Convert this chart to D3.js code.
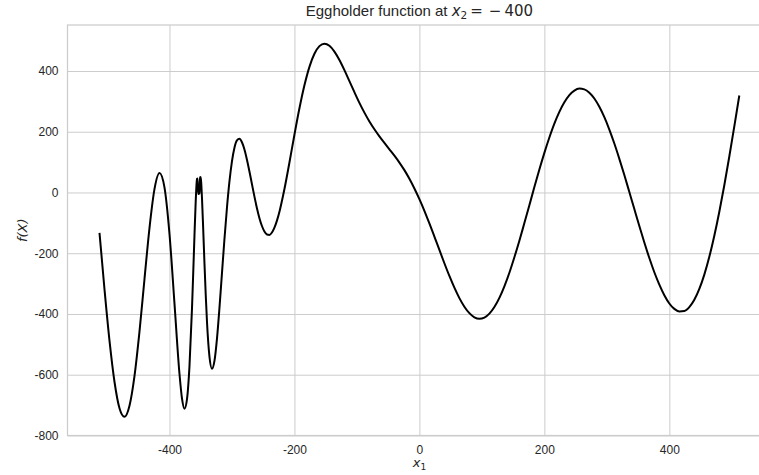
<!DOCTYPE html>
<html>
<head>
<meta charset="utf-8">
<script src="https://cdn.jsdelivr.net/npm/d3@7"></script>
<style>
  html, body { margin: 0; padding: 0; background: #ffffff; }
  svg { display: block; }
</style>
</head>
<body>
<svg id="chart" width="759" height="475"></svg>
<script>
// Sampled values of the Eggholder function along x1 with x2 held at -400
const x1Values = [
  -512, -504, -496, -488, -480, -472, -464, -456, -448, -440, -432, -424, -416, -408, -400,
  -392, -384, -380, -376, -372, -368, -364, -362, -360, -358, -357, -356, -355, -354, -352,
  -351, -350, -349, -348, -346, -344, -342, -340, -336, -332, -328, -324, -320, -316, -312,
  -308, -304, -300, -296, -292, -288, -284, -280, -276, -272, -268, -264, -260, -256, -252,
  -248, -244, -240, -236, -232, -228, -224, -216, -208, -200, -192, -184, -176, -168, -160,
  -152, -144, -136, -128, -120, -112, -104, -96, -88, -80, -72, -64, -56, -48, -40,
  -32, -24, -16, -8, 0, 8, 16, 24, 32, 40, 48, 56, 64, 72, 80,
  88, 96, 104, 112, 120, 128, 136, 144, 152, 160, 168, 176, 184, 192, 200,
  208, 216, 224, 232, 240, 248, 256, 264, 272, 280, 288, 296, 304, 312, 320,
  328, 336, 344, 352, 360, 368, 376, 384, 392, 400, 408, 416, 424, 432, 440,
  448, 456, 464, 472, 480, 488, 496, 504, 512
];
const fValues = [
  -132.8, -318.5, -487.8, -623.1, -710.5, -738.7, -702.1, -604.7, -458.4, -285.6, -117.0, 11.2, 64.2, 16.7, -135.9,
  -364.9, -596.6, -677.5, -711.7, -681.0, -572.4, -384.0, -266.1, -142.6, -28.7, 16.2, 44.9, 45.9, -4.9, -2.6,
  50.1, 51.0, 25.0, -16.4, -121.1, -232.7, -336.0, -423.9, -540.6, -580.2, -554.4, -481.7, -380.1, -266.3, -153.2,
  -50.3, 36.4, 102.5, 147.6, 171.6, 176.8, 165.3, 141.4, 107.8, 69.1, 27.4, -13.8, -51.6, -84.5, -110.4,
  -128.6, -138.3, -139.6, -131.9, -115.9, -92.8, -63.2, 11.4, 98.9, 190.2, 277.1, 352.9, 413.7, 456.7, 481.8,
  490.0, 483.0, 464.0, 436.2, 402.8, 366.7, 330.2, 295.1, 262.9, 233.8, 208.0, 184.6, 163.2, 142.1, 121.2,
  98.5, 73.6, 45.3, 13.3, -21.9, -60.2, -101.8, -145.1, -189.1, -233.0, -274.9, -313.5, -347.8, -376.1, -397.4,
  -410.9, -415.9, -412.0, -399.0, -377.2, -347.0, -308.8, -264.3, -213.3, -158.9, -100.8, -41.9, 17.7, 75.6, 130.4,
  181.0, 226.7, 265.4, 296.8, 320.5, 335.6, 342.0, 339.6, 328.6, 309.4, 282.1, 247.9, 207.2, 161.2, 110.8,
  57.4, 1.6, -54.5, -110.4, -164.6, -215.8, -262.7, -303.5, -338.2, -365.5, -383.3, -391.5, -390.2, -377.5, -353.4,
  -317.6, -270.3, -211.9, -142.5, -63.4, 23.8, 118.6, 217.9, 319.2
];

// Tick values
const xTicks = [-400, -200, 0, 200, 400];
const yTicks = [-800, -600, -400, -200, 0, 200, 400];

const points = x1Values.map((x, i) => ({ x: x, y: fValues[i] }));

const svg = d3.select("#chart");
const plot = { left: 67.5, top: 25, right: 771.3, bottom: 435.5 };

// Axis limits padded by 5% of the data span, as in a default plot
const xExt = d3.extent(x1Values);
const yExt = d3.extent(fValues);
const xPad = (xExt[1] - xExt[0]) * 0.05;
const yPad = (yExt[1] - yExt[0]) * 0.05;

const x = d3.scaleLinear()
  .domain([xExt[0] - xPad, xExt[1] + xPad])
  .range([plot.left, plot.right]);
const y = d3.scaleLinear()
  .domain([yExt[0] - yPad, yExt[1] + yPad])
  .range([plot.bottom, plot.top]);

const gridColor = "#cccccc";
const textColor = "#262626";
const sans = "'Liberation Sans', Arial, Helvetica, sans-serif";
const math = "'DejaVu Sans', sans-serif";

// Grid lines via axes with full-length ticks
const gx = svg.append("g")
  .attr("transform", `translate(0,${plot.bottom})`)
  .call(d3.axisBottom(x).tickValues(xTicks).tickSize(-(plot.bottom - plot.top)).tickPadding(10));
const gy = svg.append("g")
  .attr("transform", `translate(${plot.left},0)`)
  .call(d3.axisLeft(y).tickValues(yTicks).tickSize(-(plot.right - plot.left)).tickPadding(9));

[gx, gy].forEach(g => {
  g.select(".domain").remove();
  g.selectAll(".tick line").attr("stroke", gridColor).attr("stroke-width", 1);
  g.selectAll(".tick text")
    .attr("fill", textColor)
    .style("font-family", sans)
    .style("font-size", "12px")
    .text(d => String(d)); // plain hyphen-minus for negative labels
});

// Frame around the plotting area
svg.append("rect")
  .attr("x", plot.left)
  .attr("y", plot.top)
  .attr("width", plot.right - plot.left)
  .attr("height", plot.bottom - plot.top)
  .attr("fill", "none")
  .attr("stroke", gridColor)
  .attr("stroke-width", 1.25);

// Function curve
const line = d3.line()
  .x(d => x(d.x))
  .y(d => y(d.y))
  .curve(d3.curveMonotoneX);

svg.append("path")
  .datum(points)
  .attr("d", line)
  .attr("fill", "none")
  .attr("stroke", "#000000")
  .attr("stroke-width", 2)
  .attr("stroke-linejoin", "round");

const cx = (plot.left + plot.right) / 2;

// Title with inline math
const title = svg.append("text")
  .attr("x", cx)
  .attr("y", 16)
  .attr("text-anchor", "middle")
  .attr("fill", textColor)
  .style("font-size", "15px")
  .style("font-family", sans);
title.append("tspan").text("Eggholder function at ");
title.append("tspan").style("font-family", math).style("font-style", "italic").text("x");
title.append("tspan").style("font-family", math).style("font-size", "10.5px").attr("dy", 3).text("2");
title.append("tspan").style("font-family", math).attr("dy", -3).attr("dx", 3).text("=");
title.append("tspan").style("font-family", math).attr("dx", 6).text("\u2212");
title.append("tspan").style("font-family", math).attr("dx", 3).text("400");

// x-axis label
const xl = svg.append("text")
  .attr("x", cx)
  .attr("y", 467)
  .attr("text-anchor", "middle")
  .attr("fill", textColor)
  .style("font-family", math)
  .style("font-size", "13px");
xl.append("tspan").style("font-style", "italic").text("x");
xl.append("tspan").style("font-size", "9px").attr("dy", 3).text("1");

// y-axis label
svg.append("text")
  .attr("transform", `translate(27,${(plot.top + plot.bottom) / 2}) rotate(-90)`)
  .attr("text-anchor", "middle")
  .attr("fill", textColor)
  .style("font-family", math)
  .style("font-style", "italic")
  .style("font-size", "13px")
  .text("f(X)");
</script>
</body>
</html>
